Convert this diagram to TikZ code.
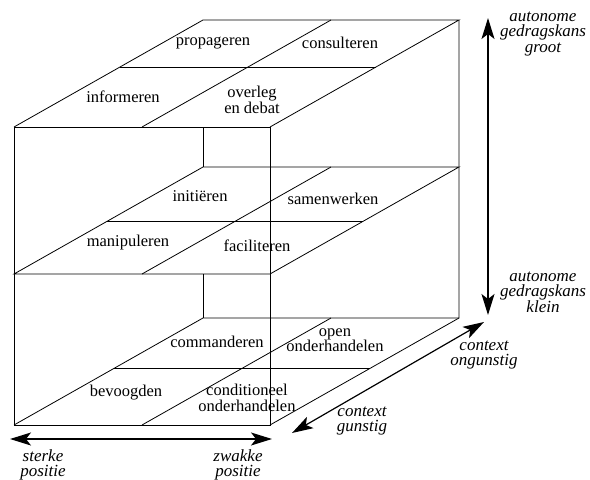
\documentclass[tikz,border=0pt]{standalone}
\usepackage{fontspec}
\setmainfont{Liberation Serif}
\usepackage{tikz}
\usetikzlibrary{arrows.meta,positioning}

\begin{document}
\begin{tikzpicture}[x=1pt,y=-1pt,
  edge/.style={line width=0.8pt},
  act/.style={font=\fontsize{16.5}{15.5}\selectfont,align=center,inner sep=1pt},
  pole/.style={font=\fontsize{17}{15.5}\selectfont\itshape,align=center,inner sep=1pt},
  axis/.style={line width=1.2pt,{Stealth[length=21pt,width=13pt,inset=5pt]}-{Stealth[length=21pt,width=13pt,inset=5pt]}}]
  \useasboundingbox (0,0) rectangle (590,480);
  % Cube corners
  \coordinate (ftl) at (14,127);
  \coordinate (ftr) at (270,127);
  \coordinate (fbr) at (270,425);
  \coordinate (fbl) at (14,425);
  \coordinate (btl) at (203,20);
  \coordinate (btr) at (459,20);
  \coordinate (bbr) at (459,318);
  \coordinate (bbl) at (203,318);
  \coordinate (fml) at (14,274);
  \coordinate (fmr) at (270,274);
  \coordinate (bml) at (203,167);
  \coordinate (bmr) at (459,167);
  % Cube outline
  \draw[edge] (ftl) rectangle (fbr);
  \draw[edge] (ftl) -- (btl) -- (btr) -- (ftr);
  \draw[edge] (btr) -- (bbr) -- (fbr);
  \draw[edge] (fml) -- (fmr) -- (bmr) -- (bml) -- cycle;
  \draw[edge] (fbl) -- (bbl) -- (bbr);
  \draw[edge] (bml |- ftl) -- (bml);
  \draw[edge] (bbl |- fml) -- (bbl);
  % Cells on each floor
  \foreach \y/\f in {127/0.56,274/0.49,425/0.53} {
    \draw[edge] ({14+\f*189},{\y-\f*107}) -- ({270+\f*189},{\y-\f*107});
    \draw[edge] (142,\y) -- (331,{\y-107});
  }
  % Top floor
  \node[act] (prop) at (213,43) {propageren};
  \node[act] (cons) at (340,43) {consulteren};
  \node[act] (info) at (123,97) {informeren};
  \node[act] (overl) at (252,100) {overleg\\en debat};
  % Middle floor
  \node[act] (init) at (200,196) {initiëren};
  \node[act] (samen) at (333,199) {samenwerken};
  \node[act] (manip) at (128,243) {manipuleren};
  \node[act] (facil) at (257,246) {faciliteren};
  % Bottom floor
  \node[act] (comm) at (217,342) {commanderen};
  \node[act] (open) at (335,340) {open\\onderhandelen};
  \node[act] (bevo) at (126,393) {bevoogden};
  \node[act] (cond) at (247,398) {conditioneel\\onderhandelen};
  % Axes
  \coordinate (vtop) at (488,18);
  \coordinate (vbot) at (488,315);
  \coordinate (dlo) at (292,433);
  \coordinate (dhi) at (484,322);
  \coordinate (hl) at (10,439);
  \coordinate (hr) at (272,439);
  \draw[axis] (vbot) -- (vtop);
  \draw[axis] (dlo) -- (dhi);
  \draw[axis] (hl) -- (hr);
  % Axis labels
  \node[pole] (groot) at (543,34) {autonome\\gedragskans\\groot};
  \node[pole] (klein) at (543,292) {autonome\\gedragskans\\klein};
  \node[pole] (ongun) at (484,355) {context\\ongunstig};
  \node[pole] (gun) at (362,421) {context\\gunstig};
  \node[pole] (sterk) at (43,465) {sterke\\positie};
  \node[pole] (zwak) at (238,465) {zwakke\\positie};
\end{tikzpicture}
\end{document}
